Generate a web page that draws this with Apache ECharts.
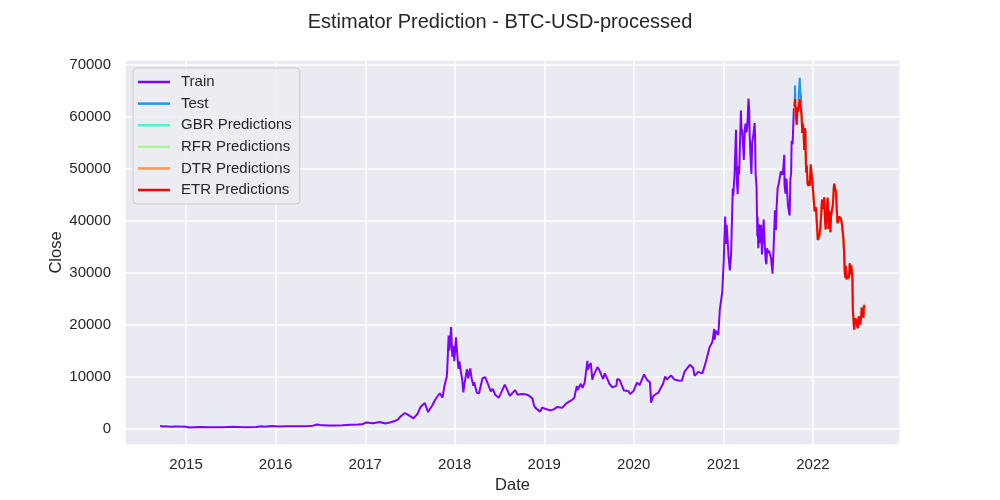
<!DOCTYPE html>
<html>
<head>
<meta charset="utf-8">
<script src="https://cdn.jsdelivr.net/npm/echarts@6/dist/echarts.min.js"></script>
<style>
  html, body { margin: 0; padding: 0; background: #fff; }
  #main { width: 1000px; height: 500px; }
</style>
</head>
<body>
<div id="main"></div>
<script>
// train closes
var trainDates = [
    '2014-09-17','2014-10-01','2014-10-15','2014-11-01','2014-11-15','2014-12-01','2014-12-15',
    '2015-01-01','2015-01-14','2015-02-01','2015-03-01','2015-04-01','2015-05-01','2015-06-01',
    '2015-07-12','2015-08-01','2015-08-24','2015-09-15','2015-10-15','2015-11-04','2015-11-15',
    '2015-12-15','2016-01-15','2016-02-15','2016-03-15','2016-04-15','2016-05-15','2016-06-01',
    '2016-06-17','2016-07-01','2016-08-02','2016-09-01','2016-10-01','2016-11-01','2016-12-01',
    '2016-12-20','2017-01-04','2017-01-12','2017-02-01','2017-03-01','2017-03-24','2017-04-15',
    '2017-05-01','2017-05-15','2017-05-25','2017-05-27','2017-06-11','2017-06-20','2017-07-01',
    '2017-07-16','2017-08-01','2017-08-15','2017-09-01','2017-09-14','2017-10-01','2017-10-12',
    '2017-10-20','2017-11-01','2017-11-07','2017-11-12','2017-11-20','2017-11-26','2017-11-29',
    '2017-12-01','2017-12-07','2017-12-10','2017-12-13','2017-12-17','2017-12-22','2017-12-24',
    '2017-12-27','2017-12-30','2018-01-06','2018-01-10','2018-01-16','2018-01-20','2018-01-25',
    '2018-02-01','2018-02-05','2018-02-10','2018-02-20','2018-02-25','2018-03-05','2018-03-11',
    '2018-03-18','2018-03-21','2018-04-01','2018-04-10','2018-04-24','2018-05-05','2018-05-15',
    '2018-05-28','2018-06-05','2018-06-15','2018-06-29','2018-07-08','2018-07-24','2018-07-30',
    '2018-08-14','2018-08-20','2018-09-04','2018-09-15','2018-09-30','2018-10-15','2018-10-30',
    '2018-11-14','2018-11-20','2018-11-25','2018-12-01','2018-12-15','2018-12-24','2018-12-31',
    '2019-01-10','2019-01-28','2019-02-08','2019-02-24','2019-03-15','2019-04-02','2019-04-23',
    '2019-05-03','2019-05-14','2019-05-17','2019-05-30','2019-06-06','2019-06-15','2019-06-26',
    '2019-06-28','2019-07-03','2019-07-10','2019-07-16','2019-07-22','2019-08-06','2019-08-12',
    '2019-08-29','2019-09-05','2019-09-24','2019-10-06','2019-10-22','2019-10-26','2019-11-05',
    '2019-11-22','2019-12-10','2019-12-17','2019-12-31','2020-01-14','2020-01-25','2020-02-12',
    '2020-02-25','2020-03-07','2020-03-12','2020-03-20','2020-04-01','2020-04-10','2020-04-30',
    '2020-05-08','2020-05-15','2020-06-01','2020-06-15','2020-07-01','2020-07-15','2020-07-27',
    '2020-08-17','2020-08-30','2020-09-05','2020-09-20','2020-10-07','2020-10-21','2020-11-05',
    '2020-11-17','2020-11-24','2020-11-26','2020-12-01','2020-12-11','2020-12-17','2020-12-27',
    '2021-01-02','2021-01-08','2021-01-11','2021-01-14','2021-01-22','2021-01-27','2021-02-01',
    '2021-02-08','2021-02-10','2021-02-13','2021-02-15','2021-02-21','2021-02-25','2021-02-28',
    '2021-03-03','2021-03-06','2021-03-13','2021-03-16','2021-03-18','2021-03-22','2021-03-25',
    '2021-03-29','2021-04-01','2021-04-05','2021-04-08','2021-04-13','2021-04-16','2021-04-18',
    '2021-04-22','2021-04-25','2021-04-28','2021-05-03','2021-05-08','2021-05-10','2021-05-12',
    '2021-05-16','2021-05-19','2021-05-20','2021-05-23','2021-05-26','2021-05-29','2021-06-01',
    '2021-06-03','2021-06-07','2021-06-10','2021-06-14','2021-06-18','2021-06-22','2021-06-25',
    '2021-06-28','2021-07-02','2021-07-06','2021-07-10','2021-07-14','2021-07-20','2021-07-25',
    '2021-07-30','2021-08-03','2021-08-06','2021-08-10','2021-08-14','2021-08-18','2021-08-23',
    '2021-08-29','2021-09-02','2021-09-06','2021-09-07','2021-09-11','2021-09-15','2021-09-18',
    '2021-09-21','2021-09-24','2021-09-28','2021-10-01','2021-10-04','2021-10-06','2021-10-10',
    '2021-10-15','2021-10-17'
];
var trainClose = [
    457,384,395,325,376,379,347,
    314,178,226,260,247,232,223,
    310,280,210,230,255,403,320,
    444,380,400,415,430,457,537,
    750,676,547,572,616,729,753,
    800,1154,812,989,1222,937,1180,
    1421,1730,2304,2047,2958,2760,2434,
    1929,2718,4176,4892,3154,4403,5430,
    6000,6767,7144,5950,8200,9330,9888,
    10975,17899,15000,16400,19497,13831,13925,
    15838,12952,17527,14973,11490,12900,11250,
    9170,6955,8700,11403,9650,11573,9578,
    8223,8900,6844,6770,9666,9858,8700,
    7118,7630,6500,5903,6750,8424,8200,
    6274,6310,7361,6500,6625,6596,6340,
    5738,4452,4009,4214,3236,4010,3743,
    3687,3464,3661,4142,3960,4880,5464,
    5800,8200,7360,8600,7800,8800,13000,
    11300,11960,12600,9400,10300,11800,11400,
    9500,10600,8600,7900,8200,9550,9300,
    7300,7200,6640,7200,8800,8350,10400,
    9300,8900,4970,6190,6640,6860,8660,
    9980,9400,10200,9400,9230,9200,11000,
    12250,11700,10130,10900,10600,12800,15600,
    16700,19150,17100,18800,18000,22800,26300,
    32200,40800,35500,39200,33000,30400,33500,
    46200,44800,47200,48600,57500,47400,45100,
    50500,48900,61200,56800,57600,54500,51700,
    57600,58700,57000,58000,63500,61300,56200,
    51700,49000,55000,56600,58800,55900,49150,
    46400,37000,40700,34700,39300,35700,36700,
    39200,33500,36700,40200,35600,32500,31600,
    34700,33800,34200,33500,32800,29800,35300,
    42000,38200,42800,46300,47000,46700,49500,
    48800,50000,52700,46800,45200,48100,48300,
    42900,42800,41000,48100,49100,55400,54700,
    61600,61500
];

// test period
var testDates = [
    '2021-10-18','2021-10-20','2021-10-22','2021-10-24','2021-10-27','2021-10-30','2021-11-01',
    '2021-11-05','2021-11-08','2021-11-10','2021-11-13','2021-11-16','2021-11-18','2021-11-21',
    '2021-11-24','2021-11-26','2021-11-29','2021-12-01','2021-12-04','2021-12-07','2021-12-10',
    '2021-12-13','2021-12-16','2021-12-19','2021-12-23','2021-12-27','2021-12-30','2022-01-02',
    '2022-01-05','2022-01-08','2022-01-10','2022-01-13','2022-01-17','2022-01-21','2022-01-24',
    '2022-01-27','2022-01-31','2022-02-04','2022-02-07','2022-02-10','2022-02-13','2022-02-16',
    '2022-02-19','2022-02-22','2022-02-24','2022-02-28','2022-03-02','2022-03-06','2022-03-09',
    '2022-03-13','2022-03-16','2022-03-20','2022-03-23','2022-03-28','2022-04-01','2022-04-05',
    '2022-04-08','2022-04-11','2022-04-14','2022-04-18','2022-04-21','2022-04-25','2022-04-28',
    '2022-05-01','2022-05-05','2022-05-08','2022-05-10','2022-05-12','2022-05-15','2022-05-18',
    '2022-05-21','2022-05-25','2022-05-28','2022-05-31','2022-06-03','2022-06-06','2022-06-09',
    '2022-06-11','2022-06-13','2022-06-15','2022-06-18','2022-06-21','2022-06-24','2022-06-27',
    '2022-06-30','2022-07-03','2022-07-07','2022-07-10','2022-07-13','2022-07-16','2022-07-19',
    '2022-07-22','2022-07-26','2022-07-28','2022-07-30','2022-08-01'
];
var testClose = [
    62000,66000,60700,61000,58500,61900,61000,
    61000,67500,64900,64100,60100,56900,58700,
    57100,53600,57800,57200,49300,50600,47100,
    46700,47600,46700,50800,50600,47200,47300,
    43500,41800,41800,42600,42300,36300,36600,
    37100,38500,41600,44000,43500,42200,44500,
    40100,38300,38300,43200,44400,38400,41900,
    37800,41100,41300,42900,47100,46300,45500,
    42300,39500,39900,40800,40500,40400,39700,
    38500,36600,34000,31000,29000,31300,28700,
    29400,29600,29000,31800,29700,31400,30100,
    28400,22500,22600,19000,20700,21200,20700,
    19800,19300,21600,20800,20000,21200,23400,
    22600,21300,23800,23600,23300
];
// model predictions on the test dates (the four lie on top of each other)
var gbrPred = [
    61900,63300,60800,61000,58400,61800,61000,
    61000,63300,63300,63200,60000,57000,58600,
    57100,53700,57700,57200,49400,50500,47200,
    46800,47500,46800,50700,50500,47300,47300,
    43600,41900,41800,42500,42300,36400,36600,
    37100,38500,41500,43900,43400,42200,44400,
    40200,38400,38300,43100,44300,38500,41800,
    37900,41000,41200,42800,47000,46200,45400,
    42300,39600,39900,40700,40500,40300,39700,
    38500,36700,34100,31100,29100,31200,28800,
    29400,29500,28600,31700,29600,31300,30000,
    28500,22600,22700,19200,20700,21200,20700,
    19800,19400,21500,20800,20100,21200,23300,
    22600,21400,23900,23700,23500
];
var rfrPred = gbrPred;
var dtrPred = gbrPred;
var etrPred = [
    61950,63400,60700,61000,58500,61900,61000,
    61000,63400,63400,63300,60100,56900,58700,
    57100,53600,57800,57200,49300,50600,47100,
    46700,47600,46700,50800,50600,47200,47300,
    43500,41800,41800,42600,42300,36300,36600,
    37100,38500,41600,44000,43500,42200,44500,
    40100,38300,38300,43200,44400,38400,41900,
    37800,41100,41300,42900,47100,46300,45500,
    42300,39500,39900,40800,40500,40400,39700,
    38500,36600,34000,31000,29000,31300,28700,
    29400,29600,29000,31800,29700,31400,30100,
    28400,22500,22600,19000,20700,21200,20700,
    19800,19300,21600,20800,20000,21200,23200,
    22600,21300,23600,23500,23300
];

var seriesNames = ['Train', 'Test', 'GBR Predictions', 'RFR Predictions', 'DTR Predictions', 'ETR Predictions'];
var seriesColors = ['#8000ff', '#1996f3', '#4df3ce', '#b2f396', '#ff964f', '#ff0000'];

function pairUp(dates, vals) {
    return dates.map(function (d, i) { return [d, vals[i]]; });
}

var chartDom = document.getElementById('main');
var myChart = echarts.init(chartDom, null, { renderer: 'canvas' });
var font = 'Liberation Sans, Arial, sans-serif';
var textColor = '#262626';

var seriesData = [
    pairUp(trainDates, trainClose),
    pairUp(testDates, testClose),
    pairUp(testDates, gbrPred),
    pairUp(testDates, rfrPred),
    pairUp(testDates, dtrPred),
    pairUp(testDates, etrPred)
];

var series = seriesNames.map(function (name, i) {
    return {
        name: name,
        type: 'line',
        data: seriesData[i],
        showSymbol: false,
        symbol: 'none',
        color: seriesColors[i],
        lineStyle: { width: 2, color: seriesColors[i] },
        z: 2 + i
    };
});

var option = {
    animation: false,
    backgroundColor: '#ffffff',
    title: {
        text: 'Estimator Prediction - BTC-USD-processed',
        left: 'center',
        top: 7,
        textStyle: { fontFamily: font, fontSize: 20, fontWeight: 'normal', color: textColor }
    },
    legend: {
        orient: 'vertical',
        left: 133,
        top: 68,
        data: seriesNames,
        icon: 'rect',
        itemWidth: 32,
        itemHeight: 2.5,
        itemGap: 5.6,
        padding: [6, 8, 6, 5],
        backgroundColor: 'rgba(236,236,243,0.9)',
        borderColor: '#cccccc',
        borderWidth: 1,
        borderRadius: 4,
        textStyle: { fontFamily: font, fontSize: 15, color: textColor, lineHeight: 16, padding: [0, 0, 0, 6] }
    },
    grid: {
        left: 125,
        right: 100,
        top: 60,
        bottom: 55,
        show: true,
        backgroundColor: '#eaeaf2',
        borderWidth: 0
    },
    xAxis: {
        type: 'time',
        min: new Date('2014-04-27').getTime(),
        max: new Date('2022-12-22').getTime(),
        splitNumber: 9,
        name: 'Date',
        nameLocation: 'middle',
        nameGap: 32,
        nameTextStyle: { fontFamily: font, fontSize: 16.5, color: textColor },
        axisLine: { show: false },
        axisTick: { show: false },
        axisLabel: {
            fontFamily: font, fontSize: 15, color: textColor, margin: 12,
            showMinLabel: false, showMaxLabel: false,
            formatter: function (v) { return String(new Date(v).getFullYear()); }
        },
        splitLine: { show: true, lineStyle: { color: '#ffffff', width: 1.5 } }
    },
    yAxis: {
        type: 'value',
        min: -3191,
        max: 70935,
        splitNumber: 7,
        name: 'Close',
        nameLocation: 'middle',
        nameGap: 60,
        nameMoveOverlap: false,
        nameTextStyle: { fontFamily: font, fontSize: 16.5, color: textColor },
        axisLine: { show: false },
        axisTick: { show: false },
        axisLabel: {
            fontFamily: font, fontSize: 15, color: textColor, margin: 14,
            showMinLabel: false, showMaxLabel: false,
            formatter: function (v) { return String(v); }
        },
        splitLine: { show: true, lineStyle: { color: '#ffffff', width: 1.5 } }
    },
    series: series
};

option && myChart.setOption(option);
</script>
</body>
</html>
